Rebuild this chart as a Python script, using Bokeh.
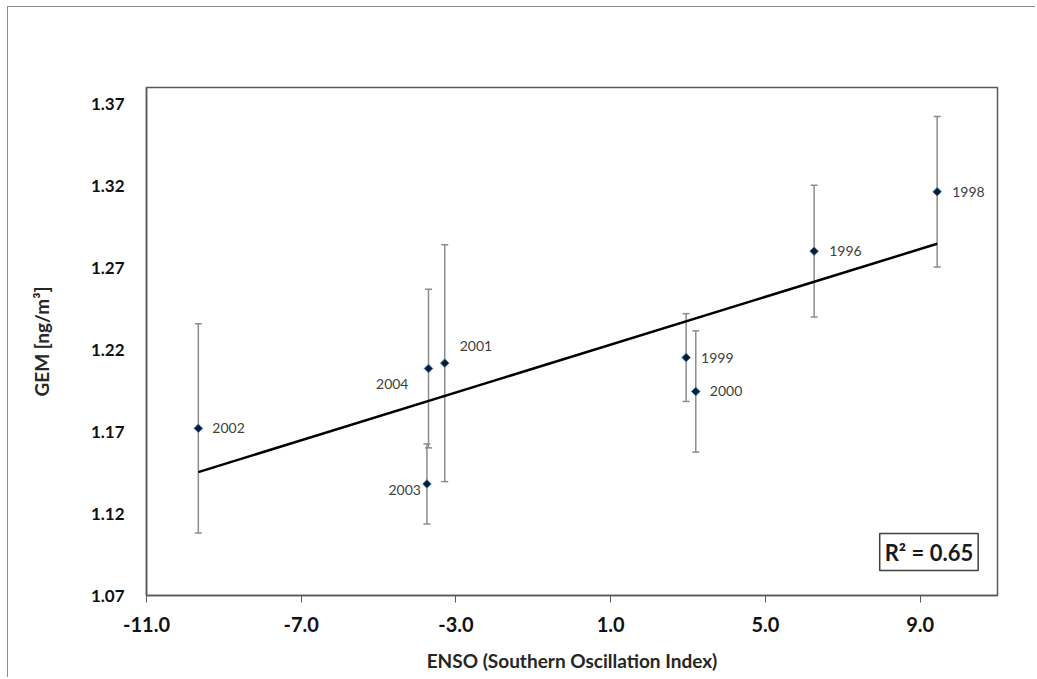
import numpy as np
from bokeh.plotting import figure
from bokeh.models import (ColumnDataSource, Whisker, TeeHead, FixedTicker,
                          NumeralTickFormatter, Label)
from bokeh.core.properties import value
from bokeh.embed import file_html
from bokeh.resources import INLINE

# ---- data ----
years = ["2002", "2004", "2003", "2001", "1999", "2000", "1996", "1998"]
soi = [-9.66, -3.71, -3.75, -3.29, 2.95, 3.20, 6.26, 9.44]
gem = [1.1720, 1.2085, 1.1381, 1.2118, 1.2152, 1.1945, 1.2801, 1.3164]
gem_err = [0.0638, 0.0484, 0.0244, 0.0723, 0.0268, 0.0370, 0.0402, 0.0459]
x_ticks = [-11, -7, -3, 1, 5, 9]
y_ticks = [1.07, 1.12, 1.17, 1.22, 1.27, 1.32, 1.37]
r2_text = "R\u00b2 = 0.65"

# ---- label placement (screen pixels, y downward) ----
lab_dx = {"2002": 14, "2004": -20, "2003": -6, "2001": 15,
          "1999": 15, "2000": 14, "1996": 15, "1998": 15}
lab_dy = {"2002": 0, "2004": 15, "2003": 6, "2001": -17,
          "1999": 0, "2000": 0, "1996": 0, "1998": 0}
lab_al = {"2002": "left", "2004": "right", "2003": "right", "2001": "left",
          "1999": "left", "2000": "left", "1996": "left", "1998": "left"}

FONT = "Lato"

x = np.array(soi)
y = np.array(gem)
e = np.array(gem_err)

src = ColumnDataSource(dict(
    x=x, y=y, upper=y + e, lower=y - e, year=years,
    dx=[lab_dx[k] for k in years], dy=[lab_dy[k] for k in years],
    al=[lab_al[k] for k in years],
))

p = figure(width=1028, height=671, x_range=(-11, 11), y_range=(1.07, 1.38),
           output_backend="svg", toolbar_location=None,
           min_border_left=138, min_border_right=39,
           min_border_top=80, min_border_bottom=83,
           styles={"margin-left": "7px", "margin-top": "6px",
                   "border-left": "1px solid #8c8c8c",
                   "border-top": "1px solid #8c8c8c"})

p.xgrid.visible = False
p.ygrid.visible = False
p.outline_line_color = "#595959"
p.outline_line_width = 1.5

# axes
p.xaxis.ticker = FixedTicker(ticks=x_ticks)
p.xaxis.formatter = NumeralTickFormatter(format="0.0")
p.yaxis.ticker = FixedTicker(ticks=y_ticks)
p.yaxis.formatter = NumeralTickFormatter(format="0.00")
p.xaxis.minor_tick_line_color = None
p.yaxis.minor_tick_line_color = None
p.yaxis.major_tick_line_color = None
p.yaxis.major_tick_out = 0
p.xaxis.major_tick_out = 7
p.xaxis.major_tick_in = 0
p.xaxis.major_tick_line_color = "#595959"
p.xaxis.axis_line_color = "#595959"
p.yaxis.axis_line_color = "#595959"
p.xaxis.axis_line_width = 1.5
p.yaxis.axis_line_width = 1.5

p.xaxis.major_label_text_font = FONT
p.yaxis.major_label_text_font = FONT
p.xaxis.major_label_text_font_style = "bold"
p.yaxis.major_label_text_font_style = "bold"
p.xaxis.major_label_text_font_size = "20px"
p.yaxis.major_label_text_font_size = "17px"
p.xaxis.major_label_text_color = "#111111"
p.yaxis.major_label_text_color = "#111111"
p.xaxis.major_label_standoff = 14
p.yaxis.major_label_standoff = 22

p.xaxis.axis_label = "ENSO (Southern Oscillation Index)"
p.yaxis.axis_label = "GEM [ng/m\u00b3]"
for ax in (p.xaxis, p.yaxis):
    ax.axis_label_text_font = FONT
    ax.axis_label_text_font_style = "bold"
    ax.axis_label_text_font_size = "19px"
    ax.axis_label_text_color = "#262626"
p.xaxis.axis_label_standoff = 14
p.yaxis.axis_label_standoff = 35

# error bars
ecol = "#8c8c8c"
p.add_layout(Whisker(source=src, base="x", upper="upper", lower="lower",
                     dimension="height", line_color=ecol, line_width=1.5,
                     upper_head=TeeHead(size=7, line_color=ecol, line_width=1.5),
                     lower_head=TeeHead(size=7, line_color=ecol, line_width=1.5)))

# linear trend from the data
slope, icpt = np.polyfit(x, y, 1)
xl = np.array([x.min(), x.max()])
p.line(xl, slope * xl + icpt, line_color="black", line_width=2.5)

# points
p.scatter("x", "y", source=src, marker="square", angle=np.pi / 4, size=6,
          fill_color="#0d1b2a", line_color="#2f6fb5", line_width=1)

# point labels
p.text("x", "y", text="year", source=src, x_offset="dx", y_offset="dy",
       text_align="al", text_baseline="middle",
       text_font=value(FONT), text_font_size="14px", text_color="#404040")

# R^2 box
p.add_layout(Label(x=10.50, y=1.0852, text=r2_text, text_align="right",
                   text_baseline="bottom", text_font=FONT,
                   text_font_style="bold", text_font_size="22px",
                   text_color="#1a1a1a", border_line_color="#404040",
                   border_line_width=1.5, background_fill_color="white",
                   padding=5))

open("out.html", "w").write(file_html(p, INLINE))
